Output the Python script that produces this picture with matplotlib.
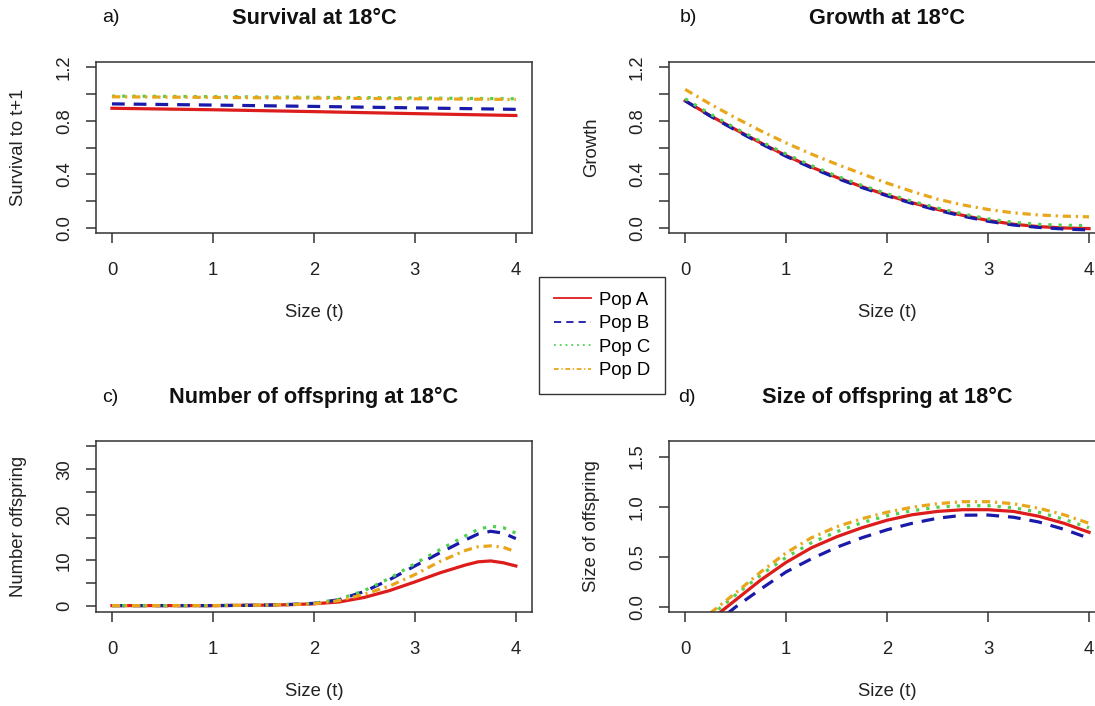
import matplotlib
matplotlib.use('Agg')
import matplotlib.pyplot as plt
from matplotlib.lines import Line2D

plt.rcParams['font.family'] = ['Liberation Sans', 'DejaVu Sans']

# ---------------- data ----------------
pops = ['Pop A', 'Pop B', 'Pop C', 'Pop D']

# a) survival
x_surv = [0, 1, 2, 3, 4]
surv_A = [0.894, 0.883, 0.869, 0.854, 0.840]
surv_B = [0.927, 0.918, 0.908, 0.897, 0.886]
surv_C = [0.985, 0.981, 0.976, 0.971, 0.965]
surv_D = [0.980, 0.975, 0.970, 0.965, 0.960]

# b) growth
x_grow = [0, 0.25, 0.5, 0.75, 1, 1.25, 1.5, 1.75, 2, 2.25, 2.5, 2.75, 3, 3.25, 3.5, 3.75, 4]
grow_A = [0.950, 0.838, 0.735, 0.635, 0.540, 0.455, 0.378, 0.308, 0.245, 0.188, 0.138, 0.094, 0.056, 0.028, 0.010, 0.000, -0.005]
grow_B = [0.950, 0.835, 0.730, 0.630, 0.535, 0.450, 0.372, 0.302, 0.240, 0.183, 0.132, 0.088, 0.050, 0.022, 0.004, -0.008, -0.015]
grow_C = [0.965, 0.850, 0.745, 0.645, 0.552, 0.466, 0.388, 0.318, 0.256, 0.199, 0.149, 0.105, 0.068, 0.042, 0.027, 0.020, 0.018]
grow_D = [1.035, 0.925, 0.822, 0.725, 0.635, 0.552, 0.476, 0.405, 0.335, 0.272, 0.215, 0.172, 0.138, 0.113, 0.097, 0.088, 0.083]

# c) number of offspring
x_num = [0, 0.25, 0.5, 0.75, 1, 1.25, 1.5, 1.75, 2, 2.25, 2.5, 2.75, 3, 3.25, 3.5, 3.625, 3.75, 3.875, 4]
num_A = [0.1, 0.1, 0.1, 0.1, 0.1, 0.15, 0.2, 0.3, 0.5, 0.9, 1.9, 3.4, 5.3, 7.3, 9.0, 9.7, 9.9, 9.5, 8.8]
num_B = [0.1, 0.1, 0.1, 0.1, 0.1, 0.15, 0.2, 0.35, 0.6, 1.4, 3.2, 5.8, 8.8, 11.7, 14.5, 15.8, 16.4, 16.0, 14.8]
num_C = [0.1, 0.1, 0.1, 0.1, 0.1, 0.15, 0.2, 0.35, 0.6, 1.5, 3.4, 6.1, 9.3, 12.4, 15.4, 16.8, 17.5, 17.2, 16.0]
num_D = [0.1, 0.1, 0.1, 0.1, 0.1, 0.15, 0.2, 0.3, 0.5, 1.2, 2.6, 4.4, 6.9, 9.8, 12.2, 13.0, 13.2, 12.9, 11.9]

# d) size of offspring
x_size = [0.25, 0.5, 0.75, 1, 1.25, 1.5, 1.75, 2, 2.25, 2.5, 2.75, 3, 3.25, 3.5, 3.75, 4]
size_A = [-0.13, 0.07, 0.27, 0.445, 0.59, 0.70, 0.79, 0.865, 0.92, 0.953, 0.97, 0.97, 0.953, 0.905, 0.835, 0.745]
size_B = [-0.20, 0.00, 0.18, 0.350, 0.48, 0.595, 0.69, 0.770, 0.835, 0.885, 0.915, 0.917, 0.895, 0.848, 0.775, 0.685]
size_C = [-0.09, 0.12, 0.32, 0.495, 0.64, 0.75, 0.84, 0.910, 0.96, 0.995, 1.01, 1.01, 0.99, 0.945, 0.875, 0.79]
size_D = [-0.06, 0.14, 0.35, 0.540, 0.69, 0.80, 0.88, 0.945, 0.995, 1.03, 1.05, 1.05, 1.03, 0.985, 0.92, 0.835]

titles = ['Survival at 18°C', 'Growth at 18°C', 'Number of offspring at 18°C', 'Size of offspring at 18°C']
letters = ['a)', 'b)', 'c)', 'd)']
ylabels = ['Survival to t+1', 'Growth', 'Number offspring', 'Size of offspring']
xlabel = 'Size (t)'

# ---------------- style ----------------
colors = ['#DD1C1C', '#1A1AAA', '#4FD04F', '#E8A61A']
dashes = [None, (4, 2.8), (1, 2.2), (2.6, 1.5, 0.7, 1.5)]
LW = 2.3
FS = 13.3
AX_C = '#333333'

W, H = 1095, 706
fig = plt.figure(figsize=(W / 100, H / 100), dpi=100)

def fx(px):
    return px / W

def fy(py):
    return 1 - py / H

boxes = [  # left, top, right, bottom in px
    (95.8, 61.7, 532.0, 233.3),
    (669.0, 61.7, 1105.2, 233.3),
    (95.8, 441.0, 532.0, 612.0),
    (669.0, 441.0, 1105.2, 612.0),
]

series = [
    (x_surv, [surv_A, surv_B, surv_C, surv_D]),
    (x_grow, [grow_A, grow_B, grow_C, grow_D]),
    (x_num, [num_A, num_B, num_C, num_D]),
    (x_size, [size_A, size_B, size_C, size_D]),
]

ylims = [(-0.04, 1.242), (-0.04, 1.242), (-1.3, 36.2), (-0.05, 1.655)]
yticks = [
    [0, 0.2, 0.4, 0.6, 0.8, 1.0, 1.2],
    [0, 0.2, 0.4, 0.6, 0.8, 1.0, 1.2],
    [0, 5, 10, 15, 20, 25, 30, 35],
    [0, 0.5, 1.0, 1.5],
]
yticklabels = [
    ['0.0', '', '0.4', '', '0.8', '', '1.2'],
    ['0.0', '', '0.4', '', '0.8', '', '1.2'],
    ['0', '', '10', '', '20', '', '30', ''],
    ['0.0', '0.5', '1.0', '1.5'],
]
xticks = [0, 1, 2, 3, 4]

for i in range(4):
    l, t, r, b = boxes[i]
    ax = fig.add_axes([fx(l), fy(b), (r - l) / W, (b - t) / H])
    xs, ys = series[i]
    for j in range(4):
        line, = ax.plot(xs, ys[j], color=colors[j], lw=LW, label=pops[j])
        if dashes[j] is not None:
            line.set_dashes(dashes[j])
    ax.set_xlim(-0.16, 4.16)
    ax.set_ylim(*ylims[i])
    ax.set_xticks(xticks)
    ax.set_xticklabels([str(v) for v in xticks])
    ax.set_yticks(yticks[i])
    ax.set_yticklabels(yticklabels[i], rotation=90, va='center')
    for s in ax.spines.values():
        s.set_color(AX_C)
        s.set_linewidth(1.1)
    ax.tick_params(axis='both', length=7.5, width=1.1, color=AX_C, labelsize=FS,
                   labelcolor='#222222')
    ax.tick_params(axis='x', pad=13.5)
    ax.tick_params(axis='y', pad=9)
    hpx = b - t
    wpx = r - l
    ax.set_xlabel(xlabel, fontsize=FS, color='#222222')
    ax.xaxis.label.set_va('center')
    ax.xaxis.set_label_coords(0.5, -(79.5 / hpx))
    ax.set_ylabel(ylabels[i], fontsize=FS, color='#222222')
    ax.yaxis.label.set_va('center')
    ax.yaxis.set_label_coords(-(77.5 / wpx), 0.5)
    ax.text(0.5, 1 + 43.7 / hpx, titles[i], transform=ax.transAxes, ha='center',
            va='center', fontsize=15.7, fontweight='bold', color='#111111')

letter_pos = [(110.5, 18), (688, 18), (110, 397), (687, 397)]
for k in range(4):
    fig.text(fx(letter_pos[k][0]), fy(letter_pos[k][1]), letters[k], ha='center',
             va='center', fontsize=14, color='#111111')

handles = []
for j in range(4):
    h = Line2D([0], [0], color=colors[j], lw=1.3)
    if dashes[j] is not None:
        h.set_dashes(dashes[j])
    handles.append(h)
leg = fig.legend(handles, pops, loc='upper left', bbox_to_anchor=(fx(539), fy(277)),
                 frameon=True, fancybox=False, edgecolor=AX_C, framealpha=1,
                 fontsize=FS, handlelength=2.0, handletextpad=0.45, borderpad=0.8,
                 labelspacing=0.35, borderaxespad=0)
leg.get_frame().set_linewidth(1.0)

fig.savefig('out.png', dpi=100)
